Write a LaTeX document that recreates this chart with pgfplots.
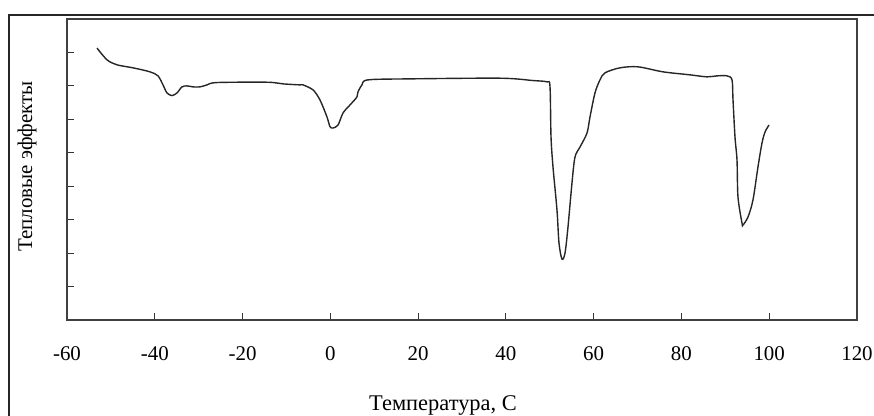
\documentclass[border=0pt]{standalone}
\usepackage{fontspec}
\setmainfont{Liberation Serif}
\usepackage{pgfplots}
\pgfplotsset{compat=1.18}
\begin{document}
\begin{tikzpicture}
\useasboundingbox (0bp,0bp) rectangle (874bp,416bp);
\draw[line width=1.1bp, black!85] (9bp,0bp) -- (9bp,401bp) -- (874bp,401bp);
\begin{axis}[
  at={(67bp,96bp)}, anchor=south west,
  scale only axis, width=790bp, height=301bp,
  xmin=-60, xmax=120, ymin=0, ymax=9,
  xtick={-60,-40,...,120}, ytick={1,...,8}, yticklabels={},
  tick pos=left, tick align=inside, major tick length=7bp,
  axis line style={line width=1.2bp, black!75},
  tick style={line width=1.1bp, black!80},
  /pgf/number format/assume math mode=true,
  xticklabel style={font=\fontsize{21}{24}\selectfont, yshift=-23bp},
  every axis plot/.append style={line width=1.4bp},
]
\addplot[black!85, smooth, tension=0.5] coordinates {
(-53.16,8.13) (-50.89,7.78) (-48.61,7.63) (-44.96,7.54) (-41.09,7.42)
(-39.27,7.30) (-38.13,7.03) (-37.22,6.79) (-36.08,6.71) (-34.94,6.79)
(-33.80,6.97) (-32.66,7.00) (-31.29,6.97) (-29.70,6.97) (-28.10,7.03)
(-25.82,7.10) (-14.43,7.11) (-10.79,7.06) (-6.91,7.03) (-6.23,7.03)
(-3.95,6.88) (-2.36,6.58) (-0.76,6.07) (-0.08,5.78) (0.61,5.74)
(1.75,5.83) (2.89,6.19) (4.48,6.43) (6.07,6.67) (6.30,6.82)
(7.21,7.03) (8.58,7.18) (18.15,7.21) (38.66,7.23) (46.17,7.16)
(49.36,7.12) (50.05,6.98) (50.28,5.48) (50.73,4.58) (51.64,3.29)
(52.10,2.30) (52.78,1.82) (53.47,2.00) (54.15,2.78) (55.06,4.10)
(55.74,4.87) (56.88,5.17) (58.48,5.59) (59.16,6.07) (60.30,6.79)
(61.44,7.18) (62.58,7.39) (66.00,7.54) (70.10,7.57) (75.80,7.42)
(81.95,7.33) (85.82,7.27) (88.10,7.30) (90.38,7.30) (91.52,7.18)
(91.75,6.58) (92.20,5.47) (92.66,4.78) (92.88,3.68) (93.79,2.90)
(94.02,2.84) (95.16,3.08) (96.30,3.59) (97.44,4.58) (98.35,5.29)
(99.04,5.62) (99.95,5.83)
};
\end{axis}
\node[anchor=base, font=\fontsize{22.5}{26}\selectfont] at (443bp,6bp) {Температура, С};
\node[rotate=90, anchor=base, font=\fontsize{21}{24}\selectfont] at (32bp,249.5bp) {Тепловые эффекты};
\end{tikzpicture}
\end{document}
